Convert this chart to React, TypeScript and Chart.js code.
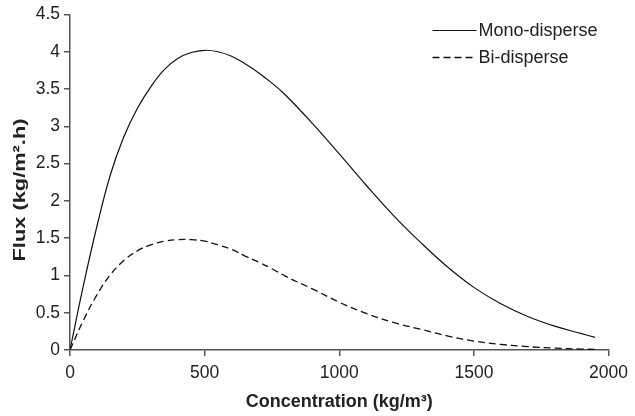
import React, { useEffect, useRef } from "react";
import { Chart, registerables } from "chart.js";

Chart.register(...registerables);

const concentration = [0, 50, 100, 150, 200, 250, 300, 350, 400, 450, 500, 550, 600, 650, 700, 750, 800, 900, 1000, 1100, 1200, 1300, 1400, 1500, 1600, 1700, 1800, 1900, 1950];
const monoDisperse = [0, 0.87, 1.66, 2.35, 2.86, 3.24, 3.53, 3.76, 3.91, 3.99, 4.02, 4.0, 3.94, 3.84, 3.72, 3.58, 3.42, 3.04, 2.63, 2.21, 1.81, 1.45, 1.12, 0.84, 0.62, 0.45, 0.32, 0.22, 0.17];
const biDisperse = [0, 0.4, 0.74, 1.01, 1.2, 1.33, 1.41, 1.46, 1.48, 1.48, 1.46, 1.41, 1.35, 1.26, 1.18, 1.09, 0.99, 0.82, 0.64, 0.49, 0.37, 0.28, 0.19, 0.12, 0.075, 0.045, 0.025, 0.012, 0.008];
const seriesLabels = ["Mono-disperse", "Bi-disperse"];
const xTitle = "Concentration (kg/m³)";
const yTitle = "Flux (kg/m².h)";

const FONT = "'Liberation Sans', Arial, sans-serif";
const TEXT = "#222";

const overlayPlugin = {
  id: "overlay",
  afterDraw(chart: any) {
    const { ctx, chartArea } = chart;
    ctx.save();
    // legend
    chart.data.datasets.forEach((ds: any, i: number) => {
      const y = chartArea.top + 16 + i * 27;
      const x0 = chartArea.right - 176;
      const x1 = chartArea.right - 132;
      ctx.beginPath();
      ctx.setLineDash(ds.borderDash || []);
      ctx.strokeStyle = ds.borderColor;
      ctx.lineWidth = ds.borderWidth;
      ctx.moveTo(x0, y);
      ctx.lineTo(x1, y);
      ctx.stroke();
      ctx.setLineDash([]);
      ctx.fillStyle = TEXT;
      ctx.font = `18px ${FONT}`;
      ctx.textAlign = "left";
      ctx.textBaseline = "middle";
      ctx.fillText(ds.label, x1 + 2, y + 1);
    });
    // axis titles
    ctx.fillStyle = TEXT;
    ctx.font = `bold 18px ${FONT}`;
    ctx.textAlign = "center";
    ctx.textBaseline = "middle";
    ctx.fillText(xTitle, (chartArea.left + chartArea.right) / 2, 402);
    ctx.font = `bold 17px ${FONT}`;
    const w = ctx.measureText(yTitle).width;
    ctx.translate(20, 190);
    ctx.rotate(-Math.PI / 2);
    ctx.scale(143 / w, 1);
    ctx.fillText(yTitle, 0, 0);
    ctx.restore();
  },
};

export default function App() {
  const ref = useRef<HTMLCanvasElement>(null);
  useEffect(() => {
    if (!ref.current) return;
    const chart = new Chart(ref.current, {
      type: "line",
      data: {
        datasets: [
          {
            label: seriesLabels[0],
            data: concentration.map((c, i) => ({ x: c, y: monoDisperse[i] })),
            borderColor: "#111",
            borderWidth: 1.2,
            pointRadius: 0,
            fill: false,
            tension: 0.4,
          },
          {
            label: seriesLabels[1],
            data: concentration.map((c, i) => ({ x: c, y: biDisperse[i] })),
            borderColor: "#111",
            borderWidth: 1.3,
            borderDash: [7, 4],
            pointRadius: 0,
            fill: false,
            tension: 0.4,
          },
        ],
      },
      options: {
        responsive: false,
        animation: false,
        layout: { padding: { left: 0, right: 23, top: 14, bottom: 0 } },
        plugins: { legend: { display: false }, tooltip: { enabled: false } },
        scales: {
          x: {
            type: "linear",
            min: 0,
            max: 2000,
            afterFit: (s: any) => { s.height = 66; },
            ticks: {
              stepSize: 500,
              color: TEXT,
              font: { family: FONT, size: 17.5 },
              padding: 7,
              callback: (v: any) => String(v),
            },
            grid: { drawOnChartArea: false, tickLength: 6, color: "#555", lineWidth: 1.5 },
            border: { color: "#555", width: 1.5 },
          },
          y: {
            min: 0,
            max: 4.5,
            afterFit: (s: any) => { s.width = 70; },
            ticks: {
              stepSize: 0.5,
              color: TEXT,
              font: { family: FONT, size: 17.5 },
              padding: 4,
              callback: (v: any) => String(v),
            },
            grid: { drawOnChartArea: false, tickLength: 6, color: "#555", lineWidth: 1.5 },
            border: { color: "#555", width: 1.5 },
          },
        },
      },
      plugins: [overlayPlugin],
    });
    return () => chart.destroy();
  }, []);
  return (
    <div style={{ position: "fixed", left: 0, top: 0, width: 635, height: 416, background: "#fff" }}>
      <canvas ref={ref} width={635} height={416} />
    </div>
  );
}
